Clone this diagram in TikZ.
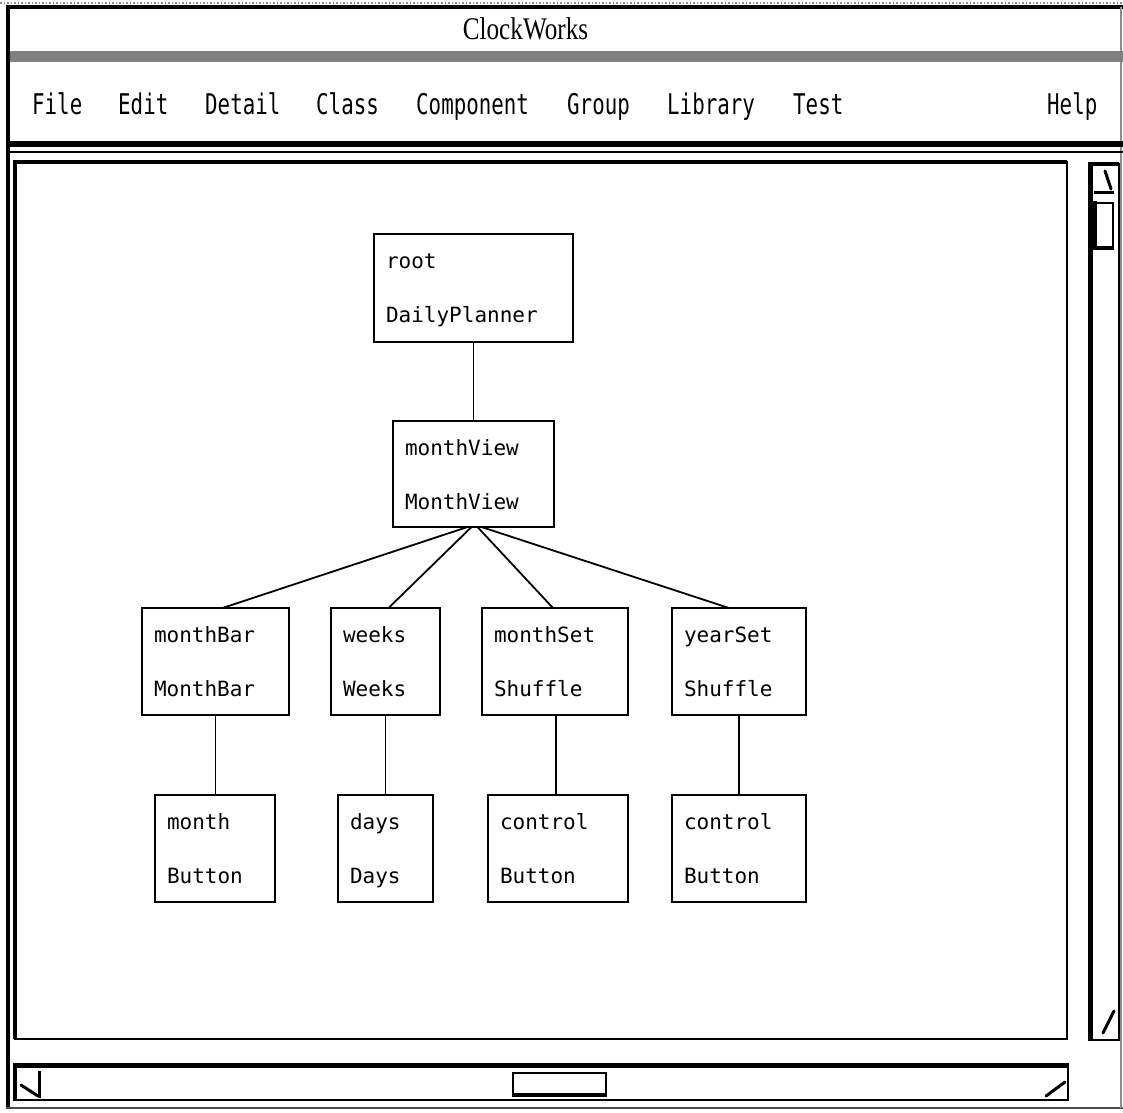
\documentclass[tikz,border=0pt]{standalone}
\usepackage{fontspec}
\setmainfont{Liberation Serif}
\newfontfamily\treefont{DejaVu Sans Mono}
\newfontfamily\menufont[FakeStretch=0.73]{DejaVu Sans Mono}
\newfontfamily\titlefont[FakeStretch=0.8]{Liberation Serif}
\usetikzlibrary{calc}

\tikzset{
  treebox/.style={draw, line width=2pt, rectangle, inner sep=0pt, outer sep=0pt},
  treetext/.style={inner sep=0pt, outer sep=0pt, font=\treefont\fontsize{21}{21}\selectfont},
  menuitem/.style={inner sep=0pt, anchor=base west, font=\menufont\fontsize{28.5}{28.5}\selectfont},
  link/.style={line width=1.8pt},
  frame/.style={line width=2.5pt},
  heavy/.style={line width=4.5pt},
  glyph/.style={line width=3pt, line cap=round},
}

% a class box: name, left, top, width, height, instance name, class name
\newcommand{\treeentry}[7]{%
  \node[treebox, minimum width=#4pt, minimum height=#5pt, anchor=north west] (#1) at (#2,#3) {};
  \node[treetext, anchor=base west] (#1-inst) at ([shift={(12pt,-34pt)}]#1.north west) {#6};
  \node[treetext, anchor=base west] (#1-cls) at ([shift={(12pt,-88pt)}]#1.north west) {#7};
}

\begin{document}
\begin{tikzpicture}[x=1pt, y=-1pt]
\useasboundingbox (0,0) rectangle (1123,1112);

% ---------- window frame ----------
\draw[black!45, line width=1.5pt, dotted] (0,3) -- (1123,3);
\draw[heavy] (6,7) -- (1123,7);
\draw[heavy] (8,7) -- (8,1108);
\draw[black!70, line width=2pt] (6,1108) -- (1123,1108);
\draw[black!45, line width=1.5pt] (1121,7) -- (1121,1108);

% title
\node[inner sep=0pt, anchor=base, font=\titlefont\fontsize{31.5}{31.5}\selectfont] (title) at (525.5,39) {ClockWorks};

% dithered separator band
\fill[black!50] (10,51) rectangle (1123,62);

% ---------- menu bar ----------
\node[menuitem] (mFile) at (32,114) {File};
\node[menuitem] (mEdit) at (118,114) {Edit};
\node[menuitem] (mDetail) at (205,114) {Detail};
\node[menuitem] (mClass) at (316,114) {Class};
\node[menuitem] (mComponent) at (416,114) {Component};
\node[menuitem] (mGroup) at (567,114) {Group};
\node[menuitem] (mLibrary) at (667,114) {Library};
\node[menuitem] (mTest) at (793,114) {Test};
\node[menuitem] (mHelp) at (1047,114) {Help};

\draw[line width=6pt] (6,143.5) -- (1123,143.5);
\draw[line width=2pt] (10,152) -- (1123,152);

% ---------- canvas ----------
\draw[frame] (15,162) rectangle (1067,1039);
\draw[heavy] (13,162) -- (1067,162);
\draw[heavy] (15,160) -- (15,1039);

% vertical scroll bar
\draw[frame] (1091,164) rectangle (1119,1040);
\draw[heavy] (1090.5,162) -- (1090.5,1041);
\draw[heavy] (1088,164) -- (1119,164);
\draw[glyph] (1105,171) -- (1111,189);
\draw[glyph, line cap=butt] (1094,192) -- (1114,192);
\draw[line width=2pt] (1096,203) rectangle (1113,249);
\draw[line width=4pt] (1095,201) -- (1095,250);
\draw[line width=4pt] (1094,248) -- (1114,248);
\draw[glyph] (1103,1033) -- (1114,1011);

% horizontal scroll bar
\draw[frame] (15,1066) rectangle (1068,1100);
\draw[line width=5pt] (13,1065.5) -- (1069,1065.5);
\draw[heavy] (15,1064) -- (15,1101);
\draw[glyph, line cap=butt] (39,1071) -- (39,1098);
\draw[glyph] (21,1085) -- (38,1096);
\draw[line width=2pt] (513,1073) rectangle (606,1095);
\draw[line width=4pt] (512,1095) -- (607,1095);
\draw[glyph] (1046,1096) -- (1065,1082);

% ---------- class tree ----------
\treeentry{root}{374}{234}{199}{108}{root}{DailyPlanner}
\treeentry{monthView}{393}{421}{161}{106}{monthView}{MonthView}
\treeentry{monthBar}{142}{608}{147}{107}{monthBar}{MonthBar}
\treeentry{weeks}{331}{608}{109}{107}{weeks}{Weeks}
\treeentry{monthSet}{482}{608}{146}{107}{monthSet}{Shuffle}
\treeentry{yearSet}{672}{608}{134}{107}{yearSet}{Shuffle}
\treeentry{month}{155}{795}{120}{107}{month}{Button}
\treeentry{days}{338}{795}{95}{107}{days}{Days}
\treeentry{controlA}{488}{795}{140}{107}{control}{Button}
\treeentry{controlB}{672}{795}{134}{107}{control}{Button}

\draw[link] (root.south) -- (monthView.north);
\draw[link] ([xshift=-6pt]monthView.south) -- ([xshift=7pt]monthBar.north);
\draw[link] ([xshift=-2pt]monthView.south) -- ([xshift=3pt]weeks.north);
\draw[link] ([xshift=4pt]monthView.south) -- ([xshift=-2pt]monthSet.north);
\draw[link] ([xshift=8pt]monthView.south) -- ([xshift=-10pt]yearSet.north);

\draw[link] (monthBar.south) -- (monthBar.south |- month.north);
\draw[link] (weeks.south) -- (weeks.south |- days.north);
\draw[link] ([xshift=1pt]monthSet.south) -- ([xshift=1pt]monthSet.south |- controlA.north);
\draw[link] (yearSet.south) -- (yearSet.south |- controlB.north);
\end{tikzpicture}
\end{document}
